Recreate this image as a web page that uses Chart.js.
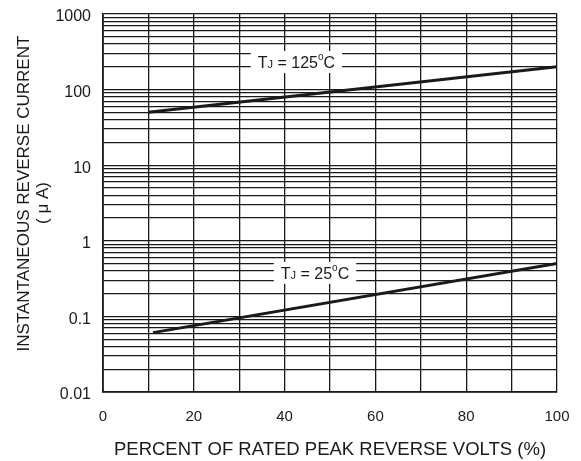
<!DOCTYPE html>
<html>
<head>
<meta charset="utf-8">
<script src="https://cdn.jsdelivr.net/npm/chart.js@4"></script>
<style>
  body { margin: 0; background: #fff; }
  canvas { display: block; }
</style>
</head>
<body>
<canvas id="chart" width="581" height="461"></canvas>
<script>
// values
const percent125 = [10, 100];
const current125 = [50, 200];
const percent25 = [11, 100];
const current25 = [0.061, 0.5];

const xLabels = [0, 20, 40, 60, 80, 100];
const yDecades = [0.01, 0.1, 1, 10, 100, 1000];

// curve labels: [temp, x, y] in data units
const curveLabels = [['125', 42.6, 232], ['25', 46.7, 0.377]];

const FONT = "'Liberation Sans', Arial, sans-serif";
const INK = '#1a1a1a';

// gridlines at 1..9 of every decade
const yGrid = [];
yDecades.forEach((d, i) => {
    if (i === yDecades.length - 1) { yGrid.push(d); return; }
    for (let m = 1; m < 10; m++) yGrid.push(+(d * m).toPrecision(3));
});

const labelPlugin = {
    id: 'tjLabels',
    afterDraw(chart) {
        const ctx = chart.ctx;
        const xs = chart.scales.x, ys = chart.scales.y;
        curveLabels.forEach(([t, xv, yv]) => {
            const cx = xs.getPixelForValue(xv);
            const cy = ys.getPixelForValue(yv);
            const parts = [
                ['T', 16, 0], ['J', 11, 0], [' = ' + t, 16, 0], ['o', 10, -8], ['C', 16, 0]
            ];
            let w = 0;
            parts.forEach(p => { ctx.font = p[1] + 'px ' + FONT; w += ctx.measureText(p[0]).width; });
            ctx.save();
            ctx.fillStyle = '#fff';
            ctx.fillRect(cx - w / 2 - 7, cy - 11, w + 14, 22);
            ctx.fillStyle = INK;
            ctx.textBaseline = 'alphabetic';
            let x = cx - w / 2;
            parts.forEach(p => {
                ctx.font = p[1] + 'px ' + FONT;
                ctx.fillText(p[0], x, cy + 6 + p[2]);
                x += ctx.measureText(p[0]).width;
            });
            ctx.restore();
        });
    }
};

new Chart(document.getElementById('chart'), {
    type: 'line',
    data: {
        datasets: [
            {
                label: 'TJ = 125°C',
                data: percent125.map((p, i) => ({ x: p, y: current125[i] })),
                borderColor: INK, borderWidth: 3, pointRadius: 0, tension: 0
            },
            {
                label: 'TJ = 25°C',
                data: percent25.map((p, i) => ({ x: p, y: current25[i] })),
                borderColor: INK, borderWidth: 3, pointRadius: 0, tension: 0
            }
        ]
    },
    options: {
        responsive: false,
        animation: false,
        layout: { padding: { top: 14, right: 24, left: 0, bottom: 0 } },
        plugins: { legend: { display: false }, tooltip: { enabled: false } },
        scales: {
            x: {
                type: 'linear', min: 0, max: 100,
                afterFit: s => { s.height = 69; s.paddingLeft = 0; s.paddingRight = 0; },
                ticks: {
                    stepSize: 10, padding: 16, color: INK, maxRotation: 0, autoSkip: false,
                    font: { family: FONT, size: 15 },
                    callback: v => xLabels.includes(v) ? String(v) : ''
                },
                grid: { color: INK, lineWidth: 1.3, drawTicks: false },
                border: { color: INK, width: 1.8 },
                title: {
                    display: true, text: 'PERCENT OF RATED PEAK REVERSE VOLTS (%)',
                    color: INK, font: { family: FONT, size: 18.5, lineHeight: 1.2 }, padding: { top: 0, bottom: 0 }
                }
            },
            y: {
                type: 'logarithmic', min: 0.01, max: 1000,
                afterFit: s => { s.width = 103; s.paddingTop = 0; s.paddingBottom = 0; },
                afterBuildTicks: s => { s.ticks = yGrid.map(v => ({ value: v })); },
                ticks: {
                    padding: 12, labelOffset: 3, color: INK, autoSkip: false,
                    font: { family: FONT, size: 16 },
                    callback: v => yDecades.includes(v) ? String(v) : ''
                },
                grid: { color: INK, lineWidth: 1.3, drawTicks: false },
                border: { color: INK, width: 1.8 },
                title: {
                    display: true,
                    text: ['\u00a0\u00a0\u00a0\u00a0INSTANTANEOUS REVERSE CURRENT', '( μ A)'],
                    color: INK, font: { family: FONT, size: 17, lineHeight: 1.1 }, padding: { top: 15, bottom: 0 }
                }
            }
        }
    },
    plugins: [labelPlugin]
});
</script>
</body>
</html>
